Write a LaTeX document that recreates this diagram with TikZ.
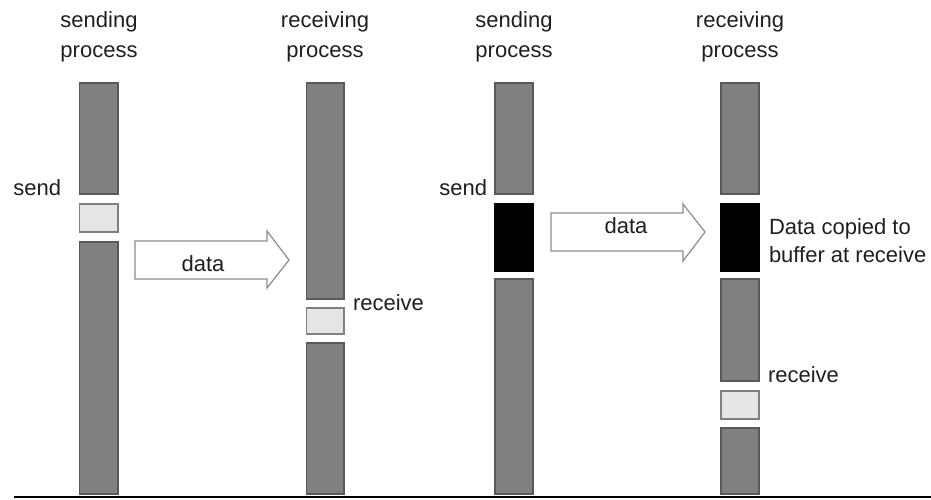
\documentclass[tikz,border=0pt]{standalone}
\usepackage{fontspec}
\setmainfont{Liberation Sans}
\begin{document}
\begin{tikzpicture}[x=1pt,y=-1pt,
  every node/.style={inner sep=0pt, outer sep=0pt},
  lbl/.style={text=black!88, font=\fontsize{22}{27}\selectfont},
  busy/.style={draw=black!65, fill=black!50, line width=1.4pt},
  idle/.style={draw=black!50, fill=black!10, line width=1.4pt},
  buf/.style={draw=black, fill=black, line width=1.4pt},
  bigarrow/.style={draw=black!45, fill=white, line width=1.2pt, line join=miter}]
\useasboundingbox (0,0) rectangle (931,499);

% process time lines: gray = busy, light = blocked/idle, black = buffer copy
% sending process, left pair
\draw[busy] (79.5,83) rectangle (118,194);
\draw[idle] (79.5,204) rectangle (118,232);
\draw[busy] (79.5,242) rectangle (118,494);
% receiving process, left pair
\draw[busy] (306.5,83) rectangle (344,299);
\draw[idle] (306.5,308) rectangle (344,334);
\draw[busy] (306.5,343) rectangle (344,494);
% sending process, right pair
\draw[busy] (495,83) rectangle (533,194);
\draw[buf]  (495,204) rectangle (533,271);
\draw[busy] (495,279) rectangle (533,494);
% receiving process, right pair
\draw[busy] (721,83) rectangle (759,194);
\draw[buf]  (721,204) rectangle (759,271);
\draw[busy] (721,279) rectangle (759,381);
\draw[idle] (721,391) rectangle (759,419);
\draw[busy] (721,428) rectangle (759,494);

% column headings
\node[lbl, anchor=base] (h1a) at (99,27) {sending};
\node[lbl, anchor=base] (h1b) at (99,57) {process};
\node[lbl, anchor=base] (h2a) at (325,27) {receiving};
\node[lbl, anchor=base] (h2b) at (325,57) {process};
\node[lbl, anchor=base] (h3a) at (514,27) {sending};
\node[lbl, anchor=base] (h3b) at (514,57) {process};
\node[lbl, anchor=base] (h4a) at (740,27) {receiving};
\node[lbl, anchor=base] (h4b) at (740,57) {process};

% event labels
\node[lbl, anchor=base east] (s1) at (61,195) {send};
\node[lbl, anchor=base east] (s2) at (487,195) {send};
\node[lbl, anchor=base west] (r1) at (353,310) {receive};
\node[lbl, anchor=base west] (r2) at (768,382) {receive};
\node[lbl, anchor=base west] (c1) at (769,234) {Data copied to};
\node[lbl, anchor=base west] (c2) at (769,262) {buffer at receive};

% block arrows carrying the message
\draw[bigarrow] (135,241) -- (267,241) -- (267,231) -- (289,260)
  -- (267,288) -- (267,279) -- (135,279) -- cycle;
\node[lbl, anchor=base] (d1) at (203,271) {data};
\draw[bigarrow] (551,213) -- (683,213) -- (683,204) -- (705,232)
  -- (683,261) -- (683,251) -- (551,251) -- cycle;
\node[lbl, anchor=base] (d2) at (626,233) {data};

% base line
\draw[line width=2.5pt] (14,497) -- (931,497);
\end{tikzpicture}
\end{document}
